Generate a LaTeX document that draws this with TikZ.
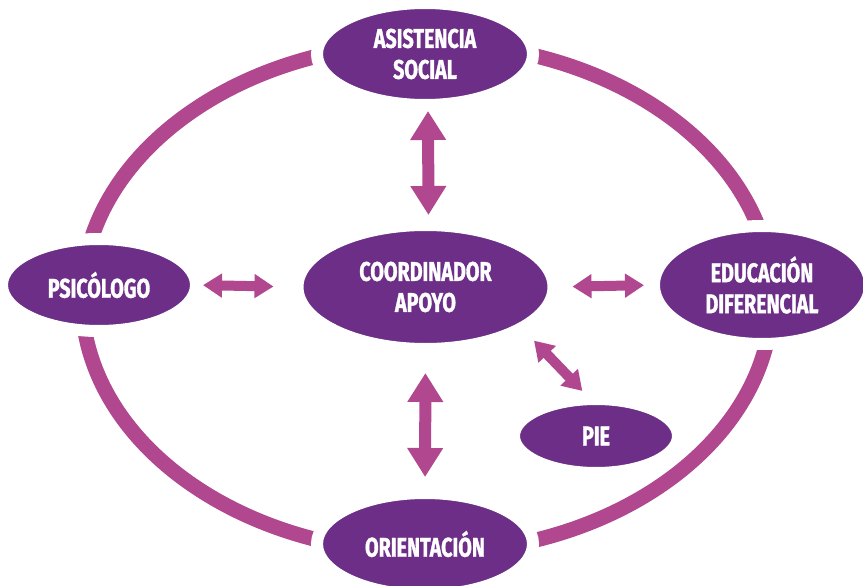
\documentclass[tikz,border=0pt]{standalone}
\usepackage{fontspec}
\setmainfont{Fira Sans}
\newfontfamily\labelfont[FakeStretch=0.73, FakeBold=1.2]{Fira Sans Bold}
\usetikzlibrary{shapes.geometric,arrows.meta}
\definecolor{ringc}{HTML}{B0478F}
\definecolor{nodec}{HTML}{6C2E87}
\tikzset{
  ringline/.style={draw=ringc, line width=15pt},
  bub/.style={ellipse, fill=nodec, draw=white, line width=12pt, outer sep=0pt,
    inner sep=0pt, text=white, align=center,
    font=\labelfont\fontsize{27}{31}\selectfont},
  bigarrow/.style={draw=ringc, line width=12pt,
    {Triangle[width=34pt,length=29pt]}-{Triangle[width=34pt,length=29pt]}},
  smallarrow/.style={draw=ringc, line width=10pt,
    {Triangle[width=23pt,length=19pt]}-{Triangle[width=23pt,length=19pt]}}
}
\begin{document}
\begin{tikzpicture}[x=1pt,y=-1pt]
\useasboundingbox[fill=white] (0,0) rectangle (863,586);
\draw[ringline] (427,298) ellipse [x radius=345, y radius=255];
\node[bub, minimum width=216pt, minimum height=102pt] (asis) at (425,54) {ASISTENCIA\\SOCIAL};
\node[bub, minimum width=194pt, minimum height=92pt] (psi) at (99,285) {PSICÓLOGO};
\node[bub, minimum width=256pt, minimum height=124pt] (coord) at (425.5,287) {COORDINADOR\\APOYO};
\node[bub, minimum width=216pt, minimum height=118pt] (edu) at (762,285) {EDUCACIÓN\\DIFERENCIAL};
\node[bub, minimum width=164pt, minimum height=74pt] (pie) at (596,436) {PIE};
\node[bub, minimum width=216pt, minimum height=102pt] (ori) at (425,544) {ORIENTACIÓN};
\draw[bigarrow, shorten <=6pt, shorten >=10pt] ([xshift=3pt]asis.south) -- ([xshift=3pt]coord.north);
\draw[bigarrow, shorten <=24pt, shorten >=16pt] (coord.south) -- (ori.north);
\draw[smallarrow, shorten <=7pt, shorten >=24pt] (psi.east) -- (coord.west);
\draw[smallarrow, shorten <=19pt, shorten >=10pt] (coord.east) -- (edu.west);
\draw[smallarrow, shorten <=17.7pt, shorten >=11.3pt] (coord.-23.6) -- (pie.99);
\end{tikzpicture}
\end{document}
